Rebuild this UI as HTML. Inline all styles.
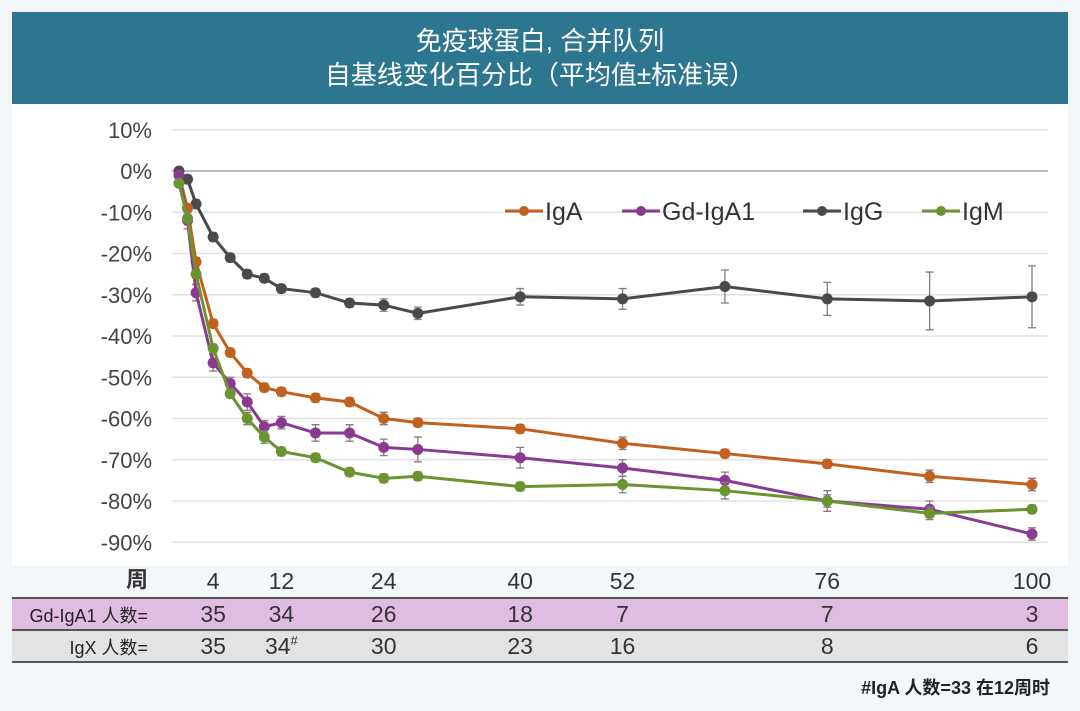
<!DOCTYPE html>
<html><head><meta charset="utf-8"><style>
html,body{margin:0;padding:0;}
body{width:1080px;height:711px;background:#f4f7fa;position:relative;overflow:hidden;font-family:"Liberation Sans","Noto Sans CJK SC",sans-serif;}
#banner{position:absolute;left:12px;top:12px;width:1056px;height:92px;background:#2d7690;color:#fff;text-align:center;font-size:26px;line-height:34px;padding-top:12px;box-sizing:border-box;}
#plotbg{position:absolute;left:12px;top:104px;width:1056px;height:462px;background:#fff;}
svg{position:absolute;left:0;top:0;}
</style></head><body>
<div id="banner">免疫球蛋白, 合并队列<br>自基线变化百分比（平均值±标准误）</div>
<div id="plotbg"></div>
<svg id="chart" width="1080" height="711"></svg>
<script>
const weeks=[0,1,2,4,6,8,10,12,16,20,24,28,40,52,64,76,88,100];
const igA=[-1,-9,-22,-37,-44,-49,-52.5,-53.5,-55,-56,-60,-61,-62.5,-66,-68.5,-71,-74,-76];
const gdIgA1=[-1,-12,-29.5,-46.5,-51.5,-56,-62,-61,-63.5,-63.5,-67,-67.5,-69.5,-72,-75,-80,-82,-88];
const igG=[0,-2,-8,-16,-21,-25,-26,-28.5,-29.5,-32,-32.5,-34.5,-30.5,-31,-28,-31,-31.5,-30.5];
const igM=[-3,-11.5,-25,-43,-54,-60,-64.5,-68,-69.5,-73,-74.5,-74,-76.5,-76,-77.5,-80,-83,-82];
const errA=[0,1,1,1,1,1,1,1,1,1,1.5,1,1,1.5,1,1,1.5,1.5];
const errGd=[0,2,2,2,1.5,2,1.5,1.5,2,2,2,3,2.5,2,2,2.5,2,1.5];
const errG=[0,1,1,1,1,1,1,1,1,1,1.5,1.5,2,2.5,4,4,7,7.5];
const errM=[0,1,1,1,1,1.5,1.5,1,1,1,1,1,1,2,2,1.5,1.5,1];
const yTicks=[10,0,-10,-20,-30,-40,-50,-60,-70,-80,-90];
const weekLabels=[4,12,24,40,52,76,100];
const gdCounts=["35","34","26","18","7","7","3"];
const igxCounts=["35","34","30","23","16","8","6"];
const seriesNames=["IgA","Gd-IgA1","IgG","IgM"];

const X=w=>179+w*8.53;
const Y=v=>171-v*4.125;
const svg=document.getElementById('chart');
const NS='http://www.w3.org/2000/svg';
function mk(t,a,p){const e=document.createElementNS(NS,t);for(const k in a)e.setAttribute(k,a[k]);(p||svg).appendChild(e);return e;}

yTicks.forEach(t=>{
  const g=mk('line',{x1:172,x2:1048,y1:Y(t),y2:Y(t),stroke:t===0?'#bbb':'#e2e2e2','stroke-width':t===0?2:1.5});
  
  
  const l=mk('text',{x:152,y:Y(t)+8,'text-anchor':'end','font-size':22,fill:'#444'});
  l.textContent=t+'%';
  
  
});

const colors=['#c2601e','#8b3a94','#4a4a4a','#6a9430'];
const all=[igA,gdIgA1,igG,igM];
const errs=[errA,errGd,errG,errM];
[2,0,1,3].forEach(si=>{
  const vals=all[si],er=errs[si];
  vals.forEach((v,i)=>{
    if(er[i]>0){
      const x=X(weeks[i]);
      const e=mk('path',{d:`M${x},${Y(v+er[i])}V${Y(v-er[i])}M${x-4},${Y(v+er[i])}h8M${x-4},${Y(v-er[i])}h8`,stroke:'#8a7a80','stroke-width':1.3,fill:'none'});
      
      
    }
  });
  const p=mk('polyline',{points:vals.map((v,i)=>X(weeks[i])+','+Y(v)).join(' '),fill:'none',stroke:colors[si],'stroke-width':3});
  
  
  vals.forEach((v,i)=>{
    const c=mk('circle',{cx:X(weeks[i]),cy:Y(v),r:5.5,fill:colors[si]});
    
    
  });
});

const legX=[505,622,803,922];
seriesNames.forEach((n,i)=>{
  const g=mk('g',{});
  
  
  mk('line',{x1:legX[i],x2:legX[i]+38,y1:211,y2:211,stroke:colors[i],'stroke-width':3},g);
  mk('circle',{cx:legX[i]+19,cy:211,r:5,fill:colors[i]},g);
  const t=mk('text',{x:legX[i]+40,y:220,'font-size':25,fill:'#333'},g);
  t.textContent=n;
});

const r1=mk('rect',{x:12,y:598,width:1056,height:32,fill:'#e0bde0'});


const r2=mk('rect',{x:12,y:630,width:1056,height:32,fill:'#e3e3e3'});


mk('line',{x1:12,x2:1068,y1:598,y2:598,stroke:'#555','stroke-width':2});
mk('line',{x1:12,x2:1068,y1:630,y2:630,stroke:'#555','stroke-width':2});
mk('line',{x1:12,x2:1068,y1:662,y2:662,stroke:'#555','stroke-width':2});
function txt(s,x,y,size,anchor,name,extra){const t=mk('text',Object.assign({x:x,y:y,'font-size':size,fill:'#333','text-anchor':anchor},extra||{}));t.textContent=s;return t;}
txt('周',148,587,22,'end','week-header',{'font-weight':'bold'});
txt('Gd-IgA1 人数=',148,622,18,'end','gd-iga1-label',{fill:'#222'});
txt('IgX 人数=',148,654,18,'end','igx-label',{fill:'#222'});
weekLabels.forEach((w,i)=>{
  txt(String(w),X(w),589,23,'middle','week-label');
  txt(gdCounts[i],X(w),622,23,'middle','gd-iga1-count');
  const t=txt(igxCounts[i],X(w),654,23,'middle','igx-count');
  if(i===1){const s=document.createElementNS(NS,'tspan');s.setAttribute('font-size',13);s.setAttribute('dy',-9);s.textContent='#';t.appendChild(s);}
});
txt('#IgA 人数=33 在12周时',1050,694,18,'end','footnote',{'font-weight':'bold',fill:'#222'});
</script>
</body></html>
